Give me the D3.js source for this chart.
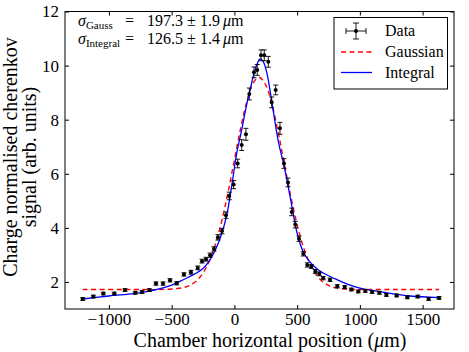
<!DOCTYPE html>
<html>
<head>
<meta charset="utf-8">
<script src="https://cdn.jsdelivr.net/npm/d3@7"></script>
<style>
body { margin: 0; background: #fff; }
text { font-family: "Liberation Serif", serif; fill: #000; }
</style>
</head>
<body>
<script>
var width = 469, height = 352;
var plotLeft = 65, plotTop = 11.5, plotRight = 454, plotBottom = 309;

// measured points (position in um, normalised signal, error)
var positions = [-1209, -1124, -1045, -957, -872, -790, -736, -678, -625, -569, -513, -460,
  -402, -346, -292, -258, -226, -194, -163, -131, -99, -67, -41, -6, 26, 58, 92, 119, 156,
  182, 212, 238, 270, 297, 329, 363, 395, 427, 457, 485, 515, 549, 581, 613, 645, 677, 708,
  762, 820, 879, 932, 987, 1043, 1097, 1155, 1211, 1293, 1378, 1461, 1548, 1631];
var signal = [1.37, 1.46, 1.57, 1.57, 1.70, 1.60, 1.63, 1.70, 1.94, 1.94, 2.06, 1.95,
  2.28, 2.36, 2.52, 2.77, 2.84, 2.99, 3.22, 3.65, 3.88, 4.47, 5.18, 5.60, 6.38, 7.06, 7.46, 8.95, 9.75,
  9.84, 10.38, 10.38, 10.14, 8.64, 9.10, 7.68, 6.38, 5.68, 4.59, 4.12, 3.60, 3.04, 2.63, 2.57, 2.39, 2.30, 2.14,
  2.08, 1.84, 1.81, 1.72, 1.65, 1.67, 1.63, 1.60, 1.52, 1.50, 1.43, 1.46, 1.37, 1.41];
var signalErr = [0.05, 0.05, 0.05, 0.05, 0.05, 0.05, 0.05, 0.05, 0.06, 0.06, 0.06, 0.06,
  0.06, 0.07, 0.07, 0.07, 0.07, 0.08, 0.08, 0.1, 0.1, 0.12, 0.14, 0.15, 0.16, 0.2, 0.22, 0.22, 0.2,
  0.2, 0.2, 0.2, 0.2, 0.2, 0.18, 0.22, 0.18, 0.16, 0.14, 0.12, 0.1, 0.08, 0.08, 0.07, 0.07, 0.07, 0.06,
  0.06, 0.06, 0.05, 0.05, 0.05, 0.05, 0.05, 0.05, 0.05, 0.05, 0.05, 0.05, 0.05, 0.05];
var positionErr = 10;

// fitted curves
var gaussPos = [-1209, -800, -600, -500, -400, -350, -300, -250, -200, -150, -100, -50, 0, 50, 100,
  150, 196, 250, 300, 350, 400, 450, 500, 550, 600, 650, 700, 750, 800, 900, 1000, 1300, 1631];
var gaussSignal = [1.72, 1.72, 1.72, 1.74, 1.80, 1.89, 2.05, 2.33, 2.77, 3.41, 4.27, 5.33, 6.51, 7.69, 8.69,
  9.36, 9.57, 9.28, 8.55, 7.51, 6.32, 5.15, 4.11, 3.29, 2.69, 2.28, 2.02, 1.87, 1.79, 1.73, 1.72, 1.72, 1.72];

var integralPos = [-1209, -1000, -800, -700, -600, -500, -400, -330, -250, -200, -150, -100, -60, -20,
  20, 50, 100, 125, 150, 180, 205, 230, 260, 300, 350, 400, 450, 500, 550, 600, 650, 700, 800, 900,
  1000, 1200, 1400, 1631];
var integralSignal = [1.37, 1.48, 1.57, 1.64, 1.74, 1.88, 2.10, 2.26, 2.50, 2.78, 3.20, 3.80, 4.50, 5.60,
  6.80, 7.45, 8.60, 9.10, 9.60, 10.05, 10.25, 10.15, 9.70, 8.60, 7.20, 6.20, 5.00, 3.80, 3.10, 2.75, 2.52,
  2.35, 2.12, 1.92, 1.77, 1.61, 1.48, 1.42];

var xTicks = [-1000, -500, 0, 500, 1000, 1500];
var yTicks = [2, 4, 6, 8, 10, 12];

var svg = d3.select("body").append("svg")
  .attr("width", width)
  .attr("height", height);

var x = d3.scaleLinear().domain([-1350, 1750]).range([plotLeft, plotRight]);
var y = d3.scaleLinear().domain([1, 12]).range([plotBottom, plotTop]);

// axes, ticks pointing inward on all four sides
svg.append("g")
  .attr("transform", "translate(0," + plotBottom + ")")
  .call(d3.axisBottom(x).tickValues(xTicks).tickFormat(d3.format("d")).tickSize(-4).tickPadding(4))
  .attr("font-size", 17).attr("font-family", "Liberation Serif");
svg.append("g")
  .attr("transform", "translate(0," + plotTop + ")")
  .call(d3.axisTop(x).tickValues(xTicks).tickSize(-4).tickFormat(""));
svg.append("g")
  .attr("transform", "translate(" + plotLeft + ",0)")
  .call(d3.axisLeft(y).tickValues(yTicks).tickSize(-4).tickPadding(6))
  .attr("font-size", 17).attr("font-family", "Liberation Serif");
svg.append("g")
  .attr("transform", "translate(" + plotRight + ",0)")
  .call(d3.axisRight(y).tickValues(yTicks).tickSize(-4).tickFormat(""));
svg.selectAll(".domain").remove();
svg.selectAll(".tick line").attr("stroke", "#000");

svg.append("rect")
  .attr("x", plotLeft).attr("y", plotTop)
  .attr("width", plotRight - plotLeft).attr("height", plotBottom - plotTop)
  .attr("fill", "none").attr("stroke", "#000").attr("stroke-width", 1);

// fit curves
var line = d3.line().curve(d3.curveCatmullRom.alpha(0.5));
svg.append("path")
  .attr("d", line(gaussPos.map(function(p, i) { return [x(p), y(gaussSignal[i])]; })))
  .attr("fill", "none").attr("stroke", "#ff0000").attr("stroke-width", 1.4)
  .attr("stroke-dasharray", "5,3.5");
svg.append("path")
  .attr("d", line(integralPos.map(function(p, i) { return [x(p), y(integralSignal[i])]; })))
  .attr("fill", "none").attr("stroke", "#0000ff").attr("stroke-width", 1.3);

// data with error bars
var cap = 2.5;
var pts = svg.append("g").selectAll("g")
  .data(positions)
  .enter().append("g");
pts.append("line")
  .attr("x1", function(d) { return x(d); }).attr("x2", function(d) { return x(d); })
  .attr("y1", function(d, i) { return y(signal[i] - signalErr[i]); })
  .attr("y2", function(d, i) { return y(signal[i] + signalErr[i]); });
pts.append("line")
  .attr("x1", function(d) { return x(d) - cap; }).attr("x2", function(d) { return x(d) + cap; })
  .attr("y1", function(d, i) { return y(signal[i] - signalErr[i]); })
  .attr("y2", function(d, i) { return y(signal[i] - signalErr[i]); });
pts.append("line")
  .attr("x1", function(d) { return x(d) - cap; }).attr("x2", function(d) { return x(d) + cap; })
  .attr("y1", function(d, i) { return y(signal[i] + signalErr[i]); })
  .attr("y2", function(d, i) { return y(signal[i] + signalErr[i]); });
pts.append("line")
  .attr("x1", function(d) { return x(d - positionErr); }).attr("x2", function(d) { return x(d + positionErr); })
  .attr("y1", function(d, i) { return y(signal[i]); })
  .attr("y2", function(d, i) { return y(signal[i]); });
pts.append("circle")
  .attr("cx", function(d) { return x(d); })
  .attr("cy", function(d, i) { return y(signal[i]); })
  .attr("r", 2);
pts.selectAll("line").attr("stroke", "#000").attr("stroke-width", 0.9);

// fit results
var note = svg.append("g").attr("font-size", 16);
[["Gauss", "197.3", "1.9", 26], ["Integral", "126.5", "1.4", 44]].forEach(function(r) {
  var t = note.append("text").attr("x", 78).attr("y", r[3]);
  t.append("tspan").attr("font-style", "italic").text("σ");
  t.append("tspan").attr("font-size", 11).attr("dy", 3).text(r[0]);
  note.append("text").attr("x", 125).attr("y", r[3]).text("=");
  note.append("text").attr("x", 147).attr("y", r[3]).text(r[1]);
  note.append("text").attr("x", 187).attr("y", r[3]).text("±");
  note.append("text").attr("x", 200).attr("y", r[3]).text(r[2]);
  var u = note.append("text").attr("x", 223).attr("y", r[3]);
  u.append("tspan").attr("font-style", "italic").text("μ");
  u.append("tspan").text("m");
});

// legend
var lg = svg.append("g").attr("font-size", 16);
lg.append("rect").attr("x", 334).attr("y", 17.5).attr("width", 113.5).attr("height", 71.5)
  .attr("fill", "#fff").attr("stroke", "#000").attr("stroke-width", 1);
var lx = 356, ly = 31;
lg.append("line").attr("x1", lx - 10).attr("x2", lx + 10).attr("y1", ly).attr("y2", ly);
lg.append("line").attr("x1", lx).attr("x2", lx).attr("y1", ly - 8).attr("y2", ly + 8);
lg.append("line").attr("x1", lx - 10).attr("x2", lx - 10).attr("y1", ly - 3).attr("y2", ly + 3);
lg.append("line").attr("x1", lx + 10).attr("x2", lx + 10).attr("y1", ly - 3).attr("y2", ly + 3);
lg.append("line").attr("x1", lx - 3).attr("x2", lx + 3).attr("y1", ly - 8).attr("y2", ly - 8);
lg.append("line").attr("x1", lx - 3).attr("x2", lx + 3).attr("y1", ly + 8).attr("y2", ly + 8);
lg.selectAll("line").attr("stroke", "#000").attr("stroke-width", 0.9);
lg.append("circle").attr("cx", lx).attr("cy", ly).attr("r", 2);
lg.append("line").attr("x1", 341).attr("x2", 372).attr("y1", 52).attr("y2", 52)
  .attr("stroke", "#ff0000").attr("stroke-width", 1.4).attr("stroke-dasharray", "5,3.5");
lg.append("line").attr("x1", 341).attr("x2", 372).attr("y1", 72.5).attr("y2", 72.5)
  .attr("stroke", "#0000ff").attr("stroke-width", 1.3);
lg.append("text").attr("x", 385).attr("y", 36).text("Data");
lg.append("text").attr("x", 385).attr("y", 57).text("Gaussian");
lg.append("text").attr("x", 385).attr("y", 78).text("Integral");

// axis titles
var xt = svg.append("text").attr("x", 270).attr("y", 347)
  .attr("text-anchor", "middle").attr("font-size", 20);
xt.append("tspan").text("Chamber horizontal position (");
xt.append("tspan").attr("font-style", "italic").text("μ");
xt.append("tspan").text("m)");

var yt = svg.append("text").attr("transform", "translate(1,157) rotate(-90)")
  .attr("text-anchor", "middle").attr("font-size", 20);
yt.append("tspan").attr("x", 0).attr("y", 16).text("Charge normalised cherenkov");
yt.append("tspan").attr("x", 0).attr("y", 35).text("signal (arb. units)");
</script>
</body>
</html>
